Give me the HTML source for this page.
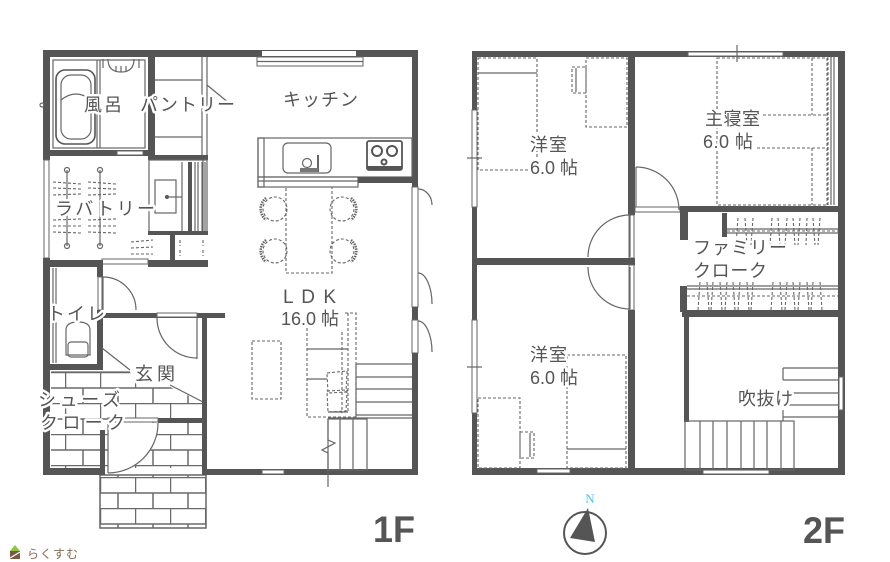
<!DOCTYPE html>
<html><head><meta charset="utf-8">
<style>
html,body{margin:0;padding:0;background:#fff;}
svg{display:block;}
.t{font-family:"Liberation Sans","Noto Sans CJK JP",sans-serif;font-size:18px;fill:#555;stroke:#fff;stroke-width:5px;paint-order:stroke;stroke-linejoin:round;}
.w{fill:#555;}
.f{fill:#fff;stroke:#666;stroke-width:1;}
.l{stroke:#666;stroke-width:1.2;fill:none;}
.d{stroke:#666;stroke-width:1.1;fill:none;stroke-dasharray:3 2;}
.k{stroke:#555;stroke-width:2;fill:none;}
</style></head><body>
<svg width="890" height="562" viewBox="0 0 890 562" xmlns="http://www.w3.org/2000/svg">
<defs>
<pattern id="brickA" patternUnits="userSpaceOnUse" x="100" y="477" width="35" height="31">
 <path d="M0 0.5H35 M0 16H35 M0.5 0V16 M18 16V31" stroke="#6a6a6a" stroke-width="1.5" fill="none"/>
</pattern>
<pattern id="brickB" patternUnits="userSpaceOnUse" x="100" y="372" width="35" height="31">
 <path d="M0 0.5H35 M0 16H35 M0.5 0V16 M18 16V31" stroke="#6a6a6a" stroke-width="1.5" fill="none"/>
</pattern>
</defs>

<!-- ================= 1F ================= -->
<polygon points="51,372 130,372 138,387 170,387 202,402 202,468 51,468" fill="url(#brickB)"/>
<rect x="100" y="475" width="106" height="53" fill="url(#brickA)" stroke="#666" stroke-width="1.5"/>

<rect class="w" x="43" y="50" width="375" height="7"/>
<rect x="262" y="51" width="94" height="5" fill="#fff"/>
<rect class="f" x="257" y="57" width="106" height="9"/>
<line class="l" x1="257" y1="61.5" x2="363" y2="61.5"/>

<rect class="w" x="43" y="50" width="7" height="110"/>
<rect class="f" x="44" y="160" width="5" height="98"/>
<rect class="w" x="43" y="258" width="7" height="217"/>
<line class="l" x1="53" y1="268" x2="53" y2="363"/>
<line class="l" x1="56" y1="268" x2="56" y2="363"/>

<rect class="l" x="53" y="60" width="92" height="88"/>
<line class="l" x1="97" y1="60" x2="97" y2="148"/>
<line class="l" x1="100" y1="60" x2="100" y2="148"/>
<rect x="56" y="70" width="39" height="74" rx="9" fill="none" stroke="#555" stroke-width="1.6"/>
<rect x="61" y="75" width="30" height="64" rx="10" class="l"/>
<path class="l" d="M61 100 Q76 88 91 100"/>
<path class="l" d="M108 59 Q108 72 121 72 Q134 72 134 59"/>
<path class="l" d="M116 66 V72 M121 66 V72 M126 66 V72 M103 59 V68 M139 59 V68"/>
<circle cx="42" cy="105" r="2" class="l"/>
<rect class="w" x="50" y="150" width="98" height="6"/>
<rect class="f" x="117" y="151" width="26" height="4"/>
<rect class="w" x="148" y="57" width="7" height="103"/>

<line class="l" x1="155" y1="80" x2="202" y2="80"/>
<line class="l" x1="155" y1="137" x2="202" y2="137"/>
<line class="l" x1="202" y1="57" x2="202" y2="155"/>
<line class="l" x1="207" y1="57" x2="207" y2="155"/>
<line class="l" x1="207" y1="85" x2="229" y2="103"/>
<rect class="w" x="148" y="155" width="60" height="5"/>

<rect class="l" x="149" y="160" width="58" height="72"/>
<rect class="l" x="155" y="180" width="21" height="33"/>
<circle cx="167" cy="197" r="2" fill="#555"/>
<line class="l" x1="167" y1="197" x2="182" y2="197"/>
<path class="l" d="M182 162V232 M195 162V232 M198 162V232 M202 162V232 M205 162V232"/>
<rect class="w" x="188" y="162" width="4" height="70"/>
<rect class="w" x="148" y="231" width="60" height="4"/>
<rect class="w" x="170" y="235" width="5" height="25"/>
<path class="d" d="M180 240V246 M180 250V256 M203 240V246 M203 250V256"/>
<rect class="w" x="148" y="260" width="60" height="7"/>
<path class="d" d="M131 242 L153 240 M131 248 L153 247 M131 254 L153 254"/>
<line class="l" x1="203" y1="160" x2="203" y2="231"/>

<line class="l" x1="67" y1="170" x2="67" y2="246"/>
<line class="l" x1="100" y1="170" x2="100" y2="246"/>
<circle cx="67" cy="170" r="2.5" class="l"/><circle cx="67" cy="246" r="2.5" class="l"/>
<circle cx="100" cy="170" r="2.5" class="l"/><circle cx="100" cy="246" r="2.5" class="l"/>
<path class="d" d="M53 182 L81 184 M53 188 L81 189 M53 195 L81 194 M53 220 L81 219 M53 226 L81 226 M53 232 L81 233 M88 182 L116 184 M88 188 L116 189 M88 195 L116 194 M88 220 L116 219 M88 226 L116 226 M88 232 L116 233"/>

<rect class="w" x="43" y="260" width="59" height="7"/>
<rect class="f" x="102" y="259" width="46" height="5"/>
<rect class="w" x="97" y="260" width="6" height="17"/>
<rect class="f" x="98" y="277" width="4" height="33"/>
<rect class="w" x="97" y="310" width="6" height="60"/>
<rect class="w" x="43" y="364" width="60" height="6"/>
<line class="l" x1="103" y1="277" x2="103" y2="310"/>
<path class="l" d="M103 277 A33 33 0 0 1 136 310"/>
<path class="l" d="M66 355 V330 Q66 322 78 322 Q90 322 90 330 V355 Z"/>
<rect class="l" x="68" y="342" width="20" height="15" rx="3"/>

<rect class="w" x="100" y="313" width="125" height="5"/>
<rect class="f" x="157" y="313" width="40" height="4"/>
<line class="l" x1="197" y1="318" x2="197" y2="359"/>
<path class="l" d="M157 318 A40 40 0 0 0 197 358"/>
<line class="l" x1="102" y1="348" x2="130" y2="370"/>
<line class="l" x1="170" y1="385" x2="203" y2="402"/>
<line class="l" x1="51" y1="372" x2="130" y2="372"/>

<rect class="w" x="202" y="313" width="5" height="162"/>
<rect class="w" x="158" y="418" width="45" height="5"/>
<rect class="f" x="108" y="418" width="50" height="4"/>
<path d="M108 423 L158 423 A50 50 0 0 1 108 473 Z" fill="#fff"/>
<line class="l" x1="108" y1="423" x2="108" y2="473"/>
<path class="l" d="M158 423 A50 50 0 0 1 108 473"/>
<rect class="w" x="100" y="430" width="5" height="45"/>
<rect class="w" x="43" y="468" width="60" height="7"/>

<rect class="w" x="202" y="469" width="216" height="6"/>
<rect class="f" x="262" y="470" width="22" height="4"/>

<rect class="w" x="412" y="50" width="6" height="137"/>
<rect class="f" x="412" y="187" width="6" height="120"/>
<rect class="w" x="412" y="307" width="6" height="13"/>
<rect class="f" x="412" y="320" width="6" height="33"/>
<rect class="w" x="412" y="353" width="6" height="122"/>
<path class="l" d="M418 189 A14 16 0 0 1 432 205"/>
<path class="l" d="M418 273 A14 31 0 0 1 432 304"/>
<path class="l" d="M418 321 A14 31 0 0 1 432 352"/>

<rect class="l" x="258" y="138" width="154" height="39"/>
<rect class="l" x="258" y="138" width="6" height="49"/>
<rect class="l" x="258" y="177" width="100" height="10"/>
<line class="l" x1="258" y1="181" x2="358" y2="181"/>
<rect class="w" x="358" y="177" width="55" height="6"/>
<rect x="283" y="143" width="48" height="30" rx="5" class="l"/>
<circle cx="307" cy="163" r="4.5" class="l"/>
<line x1="318" y1="155" x2="318" y2="172" stroke="#555" stroke-width="1.8"/>
<rect x="300" y="168" width="18" height="4" fill="#777"/>
<rect x="367" y="141" width="35" height="29" rx="2" fill="none" stroke="#555" stroke-width="1.8"/>
<rect x="367" y="166" width="35" height="4" fill="#555"/>
<circle cx="377" cy="151" r="5" class="k"/>
<circle cx="392" cy="151" r="5" class="k"/>
<circle cx="384" cy="162" r="2.5" class="k"/>

<rect class="d" x="286" y="187" width="46" height="86"/>
<g>
<circle cx="275" cy="209" r="12" class="d"/><path d="M266 198 A14 14 0 0 0 266 220" stroke="#666" stroke-width="2.5" fill="none" stroke-dasharray="1.5 1"/>
<circle cx="342" cy="209" r="12" class="d"/><path d="M351 198 A14 14 0 0 1 351 220" stroke="#666" stroke-width="2.5" fill="none" stroke-dasharray="1.5 1"/>
<circle cx="275" cy="251" r="12" class="d"/><path d="M266 240 A14 14 0 0 0 266 262" stroke="#666" stroke-width="2.5" fill="none" stroke-dasharray="1.5 1"/>
<circle cx="342" cy="251" r="12" class="d"/><path d="M351 240 A14 14 0 0 1 351 262" stroke="#666" stroke-width="2.5" fill="none" stroke-dasharray="1.5 1"/>
</g>

<rect class="d" x="252" y="341" width="29" height="58"/>
<path class="d" d="M307 328 V417 H356 V313 H343"/>
<path class="d" d="M342 332 V413 M348 313 V413"/>
<path class="l" d="M307 349 H348 M307 379 H327 M328 412 H348"/>
<path class="d" d="M327 373 L347 371 L346 392 L328 393 Z M327 391 L347 390 L346 411 L328 412 Z"/>

<path class="l" d="M356 364 H412 M356 377 H412 M356 389 H412 M356 402 H412 M356 415 H412 M356 364 V418 M328 418 H412"/>
<rect class="l" x="328" y="419" width="39" height="51"/>
<path class="l" d="M340 419 V470 M353 419 V470"/>
<rect x="323" y="436" width="4" height="20" fill="#fff"/>
<path class="l" d="M328 419 V440 L335 443 L322 450 L328 453 V487"/>

<!-- ================= 2F ================= -->
<rect class="w" x="472" y="51" width="373" height="6"/>
<rect class="f" x="688" y="52" width="95" height="4"/>
<line class="l" x1="737" y1="45" x2="737" y2="62"/>
<rect class="w" x="472" y="51" width="5" height="424"/>
<rect class="f" x="472" y="110" width="5" height="97"/>
<rect class="f" x="472" y="320" width="5" height="93"/>
<line class="l" x1="467" y1="158" x2="482" y2="158"/>
<line class="l" x1="467" y1="367" x2="482" y2="367"/>
<rect class="w" x="838" y="51" width="7" height="424"/>
<rect class="f" x="839" y="377" width="4" height="33"/>
<rect class="w" x="472" y="468" width="373" height="7"/>
<rect class="f" x="537" y="469" width="33" height="4"/>
<rect class="f" x="703" y="470" width="66" height="4"/>
<path class="l" d="M831 57 V205 M834 57 V205"/>
<line class="d" x1="827" y1="58" x2="827" y2="205"/>

<rect class="w" x="628" y="57" width="7" height="158"/>
<rect class="f" x="629" y="215" width="5" height="43"/>
<rect class="w" x="472" y="258" width="163" height="7"/>
<rect class="f" x="629" y="265" width="5" height="45"/>
<rect class="w" x="628" y="310" width="7" height="160"/>

<rect class="f" x="635" y="207" width="45" height="5"/>
<rect class="w" x="680" y="206" width="165" height="6"/>
<line class="l" x1="636" y1="167" x2="636" y2="207"/>
<path class="l" d="M636 167 A43 43 0 0 1 679 210"/>
<line class="l" x1="630" y1="215" x2="630" y2="257"/>
<path class="l" d="M630 215 A42 42 0 0 0 588 257"/>
<line class="l" x1="630" y1="267" x2="630" y2="309"/>
<path class="l" d="M588 267 A42 42 0 0 0 630 309"/>

<rect class="w" x="680" y="212" width="8" height="28"/>
<rect class="w" x="722" y="213" width="5" height="24"/>
<path class="l" d="M727 229 H838 M727 233 H838"/>
<line class="d" x1="727" y1="231" x2="838" y2="231"/>
<path class="d" d="M738 218 L736 245 M745 218 L747 245 M753 218 L751 245 M772 218 L770 245 M778 218 L780 245 M787 218 L785 245 M793 218 L795 245 M800 218 L798 245 M807 218 L806 245 M813 218 L815 245 M820 218 L818 245"/>
<rect class="w" x="680" y="286" width="7" height="26"/>
<path class="l" d="M687 286 H838 M687 289 H838"/>
<line class="d" x1="687" y1="296" x2="838" y2="296"/>
<path class="d" d="M700 282 L698 310 M707 282 L709 310 M713 282 L711 310 M720 282 L722 310 M727 282 L725 310 M733 282 L735 310 M740 282 L738 310 M747 282 L749 310 M753 282 L751 310 M773 282 L771 310 M780 282 L782 310 M787 282 L785 310 M793 282 L795 310 M800 282 L798 310 M807 282 L809 310 M813 282 L811 310 M820 282 L822 310"/>
<rect class="w" x="682" y="310" width="163" height="7"/>
<rect class="w" x="684" y="317" width="5" height="105"/>

<path class="l" d="M783 368 H838 M783 380 H838 M783 393 H838 M783 405 H838 M783 417 H838 M783 368 V380 M783 410 V421"/>
<rect class="l" x="685" y="421" width="109" height="49"/>
<path class="l" d="M700 421V470 M713 421V470 M727 421V470 M741 421V470 M754 421V470 M767 421V470 M781 421V470"/>

<rect class="d" x="478" y="58" width="59" height="112"/>
<line class="l" x1="478" y1="73" x2="537" y2="73"/>
<rect class="d" x="586" y="58" width="41" height="69"/>
<rect class="d" x="572" y="67" width="14" height="26"/>
<line class="l" x1="576" y1="68" x2="576" y2="92"/>
<rect class="d" x="478" y="398" width="42" height="70"/>
<rect class="d" x="520" y="432" width="14" height="26"/>
<line class="l" x1="530" y1="433" x2="530" y2="457"/>
<rect class="d" x="567" y="355" width="59" height="113"/>
<line class="l" x1="567" y1="449" x2="626" y2="449"/>
<rect class="d" x="717" y="58" width="111" height="147"/>
<path class="d" d="M763 115 H828 M757 148 H828"/>
<path class="d" d="M812 58 V115 M812 148 V205"/>

<!-- labels -->
<text class="t" x="84" y="111" textLength="38" lengthAdjust="spacing">風呂</text>
<text class="t" x="140" y="111" textLength="95" lengthAdjust="spacing">パントリー</text>
<text class="t" x="283" y="106" textLength="75" lengthAdjust="spacing">キッチン</text>
<text class="t" x="55" y="215" textLength="100" lengthAdjust="spacing">ラバトリー</text>
<text class="t" x="47" y="320" textLength="58" lengthAdjust="spacing">トイレ</text>
<text class="t" x="135" y="380" textLength="40" lengthAdjust="spacing">玄関</text>
<text class="t" x="38" y="406" textLength="82" lengthAdjust="spacing">シューズ</text>
<text class="t" x="40" y="429" textLength="85" lengthAdjust="spacing">クローク</text>
<text class="t" x="283" y="303" textLength="53" lengthAdjust="spacing" style="font-size:19px">L D K</text>
<text class="t" x="281" y="325" textLength="58" lengthAdjust="spacing">16.0 帖</text>

<text class="t" x="530" y="151" textLength="37" lengthAdjust="spacing">洋室</text>
<text class="t" x="530" y="174" textLength="48" lengthAdjust="spacing">6.0 帖</text>
<text class="t" x="530" y="361" textLength="37" lengthAdjust="spacing">洋室</text>
<text class="t" x="530" y="384" textLength="48" lengthAdjust="spacing">6.0 帖</text>
<text class="t" x="705" y="125" textLength="55" lengthAdjust="spacing">主寝室</text>
<text class="t" x="703" y="148" textLength="50" lengthAdjust="spacing">6.0 帖</text>
<text class="t" x="693" y="254" textLength="94" lengthAdjust="spacing">ファミリー</text>
<text class="t" x="693" y="277" textLength="74" lengthAdjust="spacing">クローク</text>
<text class="t" x="738" y="405" textLength="55" lengthAdjust="spacing">吹抜け</text>

<text x="373" y="542" style="font-family:'Liberation Sans',sans-serif;font-weight:bold;font-size:37px;fill:#555" textLength="42" lengthAdjust="spacingAndGlyphs">1F</text>
<text x="803" y="543" style="font-family:'Liberation Sans',sans-serif;font-weight:bold;font-size:37px;fill:#555" textLength="42" lengthAdjust="spacingAndGlyphs">2F</text>

<text x="590" y="503" text-anchor="middle" style="font-family:'Liberation Serif',serif;font-size:13px;fill:#4fc3f7">N</text>
<circle cx="585" cy="533" r="21" fill="none" stroke="#555" stroke-width="2"/>
<polygon points="588,508 570,538 595,542" fill="#555"/>

<polygon points="10,551 15,545 20,551" fill="#8dc63f"/>
<rect x="10" y="551" width="10" height="8" fill="#7a5a45"/>
<line x1="10" y1="558" x2="20" y2="552" stroke="#fff" stroke-width="1.2"/>
<text x="27" y="558" textLength="51" lengthAdjust="spacing" style="font-family:'Liberation Sans','Noto Sans CJK JP',sans-serif;font-size:12px;fill:#8a6a55">らくすむ</text>
</svg>
</body></html>
